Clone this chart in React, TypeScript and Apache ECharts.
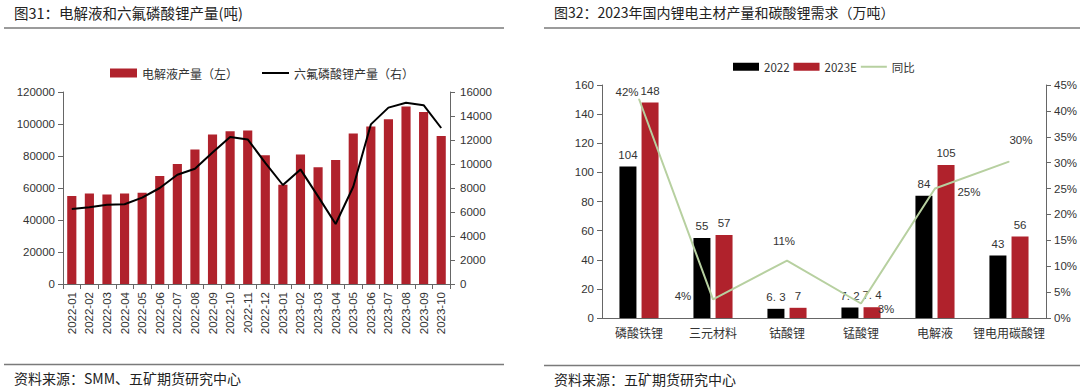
import React, { useEffect, useRef } from "react";
import * as echarts from "echarts";

const months = [
  "2022-01", "2022-02", "2022-03", "2022-04", "2022-05", "2022-06", "2022-07", "2022-08",
  "2022-09", "2022-10", "2022-11", "2022-12", "2023-01", "2023-02", "2023-03", "2023-04",
  "2023-05", "2023-06", "2023-07", "2023-08", "2023-09", "2023-10",
];
const electrolyte = [
  55000, 56500, 56000, 56500, 57000, 67500, 75000, 84000, 93500, 95500, 96000, 80500,
  62000, 81000, 73000, 77500, 94000, 98500, 103000, 111000, 107500, 92500,
];
const lipf6 = [
  6250, 6400, 6600, 6650, 7200, 8000, 9100, 9600, 10950, 12250, 12050, 10100,
  8250, 9550, 7300, 5000, 8100, 13300, 14700, 15100, 14900, 13000,
];

const materials = ["磷酸铁锂", "三元材料", "钴酸锂", "锰酸锂", "电解液", "锂电用碳酸锂"];
const y2022 = [104, 55, 6.3, 7.2, 84, 43];
const y2023 = [148, 57, 7, 7.4, 105, 56];
const yoy = [0.423, 0.036, 0.111, 0.028, 0.25, 0.302];

const FONT = "'Liberation Sans', Arial, 'Noto Sans CJK SC', sans-serif";
const CJK = "'Noto Sans CJK SC', 'Liberation Sans', sans-serif";
const RED = "#b0222c";
const AXIS = "#666";
const TXT = "#333";

export default function App() {
  const ref = useRef<HTMLDivElement>(null);
  useEffect(() => {
    if (!ref.current) return;
    const chart = echarts.init(ref.current, null, { renderer: "svg" });
    const yoyOffsets: [number, number][] = [
      [-12, -7], [-30, -3], [-3, -20], [25, 5], [34, 3], [12, -22],
    ];
    const plain = (v: number) => String(v);
    const axisLabel = { color: TXT, fontSize: 11.5, fontFamily: FONT, formatter: plain };
    const option: any = {
      animation: false,
      textStyle: { fontFamily: FONT },
      legend: [
        {
          left: 105,
          top: 62,
          itemWidth: 27,
          itemHeight: 9,
          itemGap: 24,
          textStyle: { fontSize: 12, color: TXT, fontFamily: CJK },
          data: [
            { name: "电解液产量（左）", icon: "rect" },
            { name: "六氟磷酸锂产量（右）", icon: "path://M0 0h27v2h-27z" },
          ],
        },
        {
          left: 728,
          top: 56,
          itemWidth: 26,
          itemHeight: 8,
          itemGap: 4,
          textStyle: { fontSize: 11.5, color: TXT, fontFamily: CJK },
          data: [
            { name: "2022", icon: "rect" },
            { name: "2023E", icon: "rect" },
            { name: "同比", icon: "path://M0 0h26v2h-26z" },
          ],
        },
      ],
      grid: [
        { left: 63, right: 630, top: 92, bottom: 108 },
        { left: 602, right: 32, top: 85, bottom: 74 },
      ],
      xAxis: [
        {
          type: "category",
          gridIndex: 0,
          data: months,
          axisLine: { lineStyle: { color: AXIS } },
          axisTick: { show: true, alignWithLabel: false, lineStyle: { color: AXIS } },
          axisLabel: { color: TXT, fontSize: 11.5, fontFamily: FONT, rotate: 90, interval: 0, margin: 8 },
        },
        {
          type: "category",
          gridIndex: 1,
          data: materials,
          axisLine: { lineStyle: { color: AXIS } },
          axisTick: { show: false },
          axisLabel: { color: TXT, fontSize: 12, fontFamily: CJK, interval: 0, margin: 8 },
        },
      ],
      yAxis: [
        {
          type: "value",
          gridIndex: 0,
          min: 0,
          max: 120000,
          interval: 20000,
          axisLine: { show: true, lineStyle: { color: AXIS } },
          axisTick: { show: true, lineStyle: { color: AXIS } },
          splitLine: { show: false },
          axisLabel: { ...axisLabel, margin: 8 },
        },
        {
          type: "value",
          gridIndex: 0,
          position: "right",
          min: 0,
          max: 16000,
          interval: 2000,
          axisLine: { show: true, lineStyle: { color: AXIS } },
          axisTick: { show: true, lineStyle: { color: AXIS } },
          splitLine: { show: false },
          axisLabel: { ...axisLabel, margin: 10 },
        },
        {
          type: "value",
          gridIndex: 1,
          min: 0,
          max: 160,
          interval: 20,
          axisLine: { show: true, lineStyle: { color: AXIS } },
          axisTick: { show: true, lineStyle: { color: AXIS } },
          splitLine: { show: false },
          axisLabel: { ...axisLabel, margin: 8 },
        },
        {
          type: "value",
          gridIndex: 1,
          position: "right",
          min: 0,
          max: 0.45,
          interval: 0.05,
          axisLine: { show: true, lineStyle: { color: AXIS } },
          axisTick: { show: true, lineStyle: { color: AXIS } },
          splitLine: { show: false },
          axisLabel: {
            color: TXT,
            fontSize: 11.5,
            fontFamily: FONT,
            margin: 8,
            formatter: (v: number) => Math.round(v * 100) + "%",
          },
        },
      ],
      series: [
        {
          name: "电解液产量（左）",
          type: "bar",
          xAxisIndex: 0,
          yAxisIndex: 0,
          data: electrolyte,
          barWidth: "52%",
          itemStyle: { color: RED },
        },
        {
          name: "六氟磷酸锂产量（右）",
          type: "line",
          xAxisIndex: 0,
          yAxisIndex: 1,
          data: lipf6,
          symbol: "none",
          lineStyle: { color: "#000", width: 2 },
          itemStyle: { color: "#000" },
        },
        {
          name: "2022",
          type: "bar",
          xAxisIndex: 1,
          yAxisIndex: 2,
          data: y2022,
          barWidth: 17,
          barGap: "30%",
          itemStyle: { color: "#000" },
          label: {
            show: true,
            position: "top",
            distance: 6,
            color: TXT,
            fontSize: 11.5,
            fontFamily: FONT,
            formatter: (p: any) => String(p.value).replace(".", ". "),
          },
        },
        {
          name: "2023E",
          type: "bar",
          xAxisIndex: 1,
          yAxisIndex: 2,
          data: y2023,
          barWidth: 17,
          barGap: "30%",
          itemStyle: { color: RED },
          label: {
            show: true,
            position: "top",
            distance: 6,
            color: TXT,
            fontSize: 11.5,
            fontFamily: FONT,
            formatter: (p: any) => String(p.value).replace(".", ". "),
          },
        },
        {
          name: "同比",
          type: "line",
          xAxisIndex: 1,
          yAxisIndex: 3,
          z: 5,
          symbol: "circle",
          symbolSize: 1,
          lineStyle: { color: "#b7d0a0", width: 2 },
          itemStyle: { color: "#b7d0a0" },
          data: yoy.map((v, i) => ({
            value: v,
            label: {
              show: true,
              position: "inside",
              offset: yoyOffsets[i],
              color: TXT,
              fontSize: 11.5,
              fontFamily: FONT,
              formatter: (p: any) => Math.round(p.value * 100) + "%",
            },
          })),
        },
      ],
      graphic: [
        {
          type: "text",
          left: 14,
          top: 5,
          style: { text: "图31：电解液和六氟磷酸锂产量(吨)", font: `14.5px ${CJK}`, fill: "#222" },
        },
        {
          type: "line",
          shape: { x1: 4, y1: 28, x2: 504, y2: 28 },
          style: { stroke: "#7a7a7a", lineWidth: 1.5 },
        },
        {
          type: "line",
          shape: { x1: 4, y1: 364.5, x2: 504, y2: 364.5 },
          style: { stroke: "#7a7a7a", lineWidth: 1.5 },
        },
        {
          type: "text",
          left: 14,
          top: 371,
          style: { text: "资料来源：SMM、五矿期货研究中心", font: `14px ${CJK}`, fill: "#222" },
        },
        {
          type: "text",
          left: 554,
          top: 5,
          style: { text: "图32：2023年国内锂电主材产量和碳酸锂需求（万吨）", font: `14px ${CJK}`, fill: "#222" },
        },
        {
          type: "line",
          shape: { x1: 544, y1: 28, x2: 1080, y2: 28 },
          style: { stroke: "#7a7a7a", lineWidth: 1.5 },
        },
        {
          type: "line",
          shape: { x1: 544, y1: 365.5, x2: 1080, y2: 365.5 },
          style: { stroke: "#7a7a7a", lineWidth: 1.5 },
        },
        {
          type: "text",
          left: 554,
          top: 372,
          style: { text: "资料来源：五矿期货研究中心", font: `14px ${CJK}`, fill: "#222" },
        },
      ],
    };
    chart.setOption(option);
    return () => chart.dispose();
  }, []);
  return (
    <div
      ref={ref}
      style={{ position: "absolute", left: 0, top: 0, width: 1080, height: 392, background: "#fff" }}
    />
  );
}
